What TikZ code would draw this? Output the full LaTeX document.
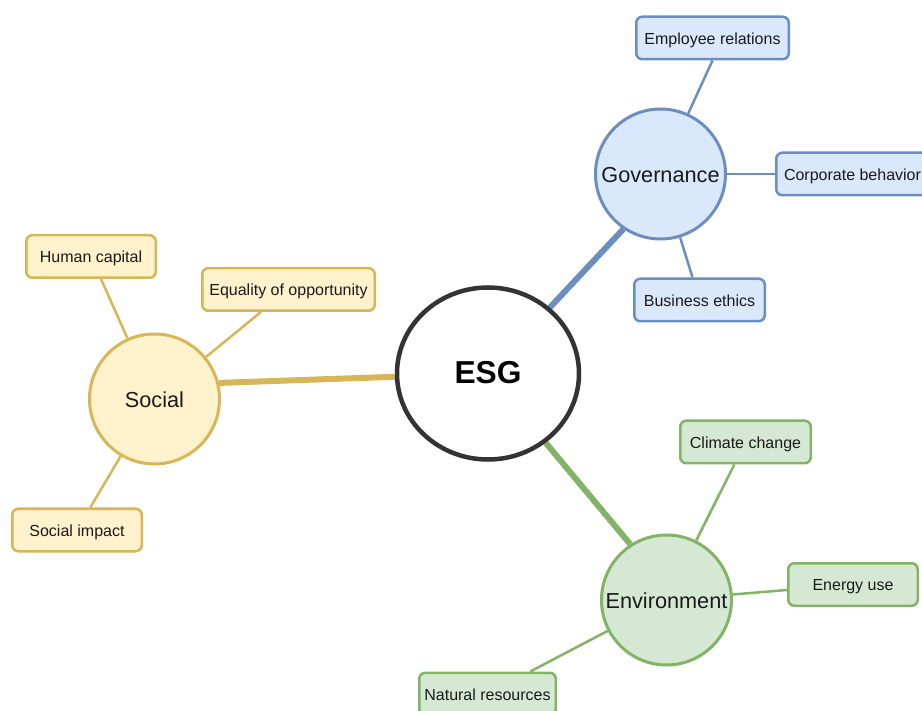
\documentclass[tikz,border=0pt]{standalone}
\usepackage{fontspec}
\setmainfont{Liberation Sans}
\usetikzlibrary{shapes.geometric,backgrounds}
\definecolor{bfill}{HTML}{DAE8FC}
\definecolor{bline}{HTML}{6C8EBF}
\definecolor{yfill}{HTML}{FFF2CC}
\definecolor{yline}{HTML}{D6B656}
\definecolor{gfill}{HTML}{D5E8D4}
\definecolor{gline}{HTML}{82B366}
\definecolor{esgline}{HTML}{333333}
\definecolor{txt}{HTML}{1A1A1A}
\begin{document}
\begin{tikzpicture}[x=1pt,y=-1pt,
  leaf/.style={draw, rounded corners=6pt, line width=2.5pt, minimum height=42.5pt,
    inner sep=0pt, text height=12.5pt, text depth=0pt,
    font=\fontsize{16}{19}\selectfont, text=txt},
  topic/.style={circle, draw, line width=3pt, minimum size=130pt, inner sep=0pt,
    text height=17.4pt, text depth=0pt,
    font=\fontsize{21.7}{26}\selectfont, text=txt},
  bleaf/.style={leaf, fill=bfill, draw=bline},
  yleaf/.style={leaf, fill=yfill, draw=yline},
  gleaf/.style={leaf, fill=gfill, draw=gline},
  thin/.style={line width=2.5pt},
  thick/.style={line width=6pt}]
\useasboundingbox (0,0) rectangle (922,711);
\clip (0,0) rectangle (922,711);

\node[ellipse, draw=esgline, line width=4.5pt, minimum width=182pt, minimum height=172pt,
  inner sep=0pt, fill=white, text height=19.6pt, text depth=0pt,
  font=\fontsize{31.7}{36}\selectfont\bfseries, text=black] (esg) at (488,373.5) {ESG};

\node[topic, fill=bfill, draw=bline] (gov) at (660.5,174) {Governance};
\node[topic, fill=yfill, draw=yline] (soc) at (154.5,399) {Social};
\node[topic, fill=gfill, draw=gline] (env) at (666.5,600) {Environment};

\node[bleaf, minimum width=152.5pt] (emp) at (712.5,38) {Employee relations};
\node[bleaf, minimum width=152.5pt] (corp) at (852.5,174) {Corporate behavior};
\node[bleaf, minimum width=130.5pt] (be) at (699.5,300) {Business ethics};

\node[yleaf, minimum width=129.5pt] (hc) at (91,256.5) {Human capital};
\node[yleaf, minimum width=172.5pt] (eq) at (288.5,289.5) {Equality of opportunity};
\node[yleaf, minimum width=129.5pt] (si) at (77,530) {Social impact};

\node[gleaf, minimum width=130.5pt] (cc) at (745.5,442) {Climate change};
\node[gleaf, minimum width=129.5pt] (eu) at (853,584.5) {Energy use};
\node[gleaf, minimum width=136.5pt] (nr) at (487.5,694) {Natural resources};

\begin{scope}[on background layer]
\draw[thick, bline] (esg) -- (gov.236);
\draw[thick, yline] (esg) -- (soc.14);
\draw[thick, gline] (esg) -- (env.123.6);
\draw[thin, bline] (gov) -- (emp.south);
\draw[thin, bline] (gov) -- (corp);
\draw[thin, bline] (gov) -- (be);
\draw[thin, yline] (soc) -- (hc);
\draw[thin, yline] (soc) -- (eq);
\draw[thin, yline] (soc) -- (si);
\draw[thin, gline] (env) -- (cc);
\draw[thin, gline] (env) -- (eu);
\draw[thin, gline] (env) -- (nr);
\end{scope}
\end{tikzpicture}
\end{document}
